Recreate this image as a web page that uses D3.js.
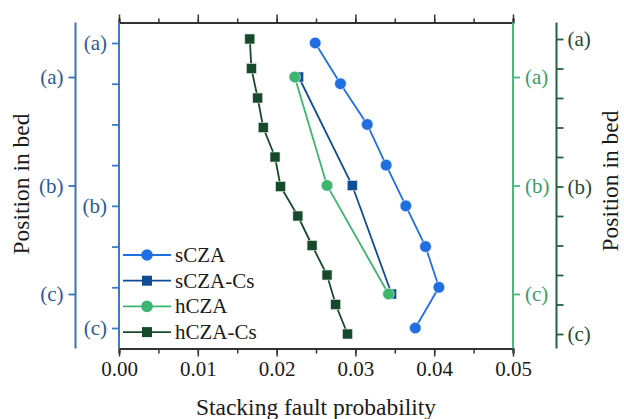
<!DOCTYPE html>
<html>
<head>
<meta charset="utf-8">
<script src="https://cdn.jsdelivr.net/npm/d3@7"></script>
<style>
  html, body { margin: 0; padding: 0; background: #ffffff; }
  svg { display: block; }
  text { font-family: "Liberation Serif", "Times New Roman", serif; }
</style>
</head>
<body>
<svg id="chart" width="624" height="419"></svg>
<script>
// ---- data ----
const xTickValues = [0.00, 0.01, 0.02, 0.03, 0.04, 0.05];
const seriesNames = ["sCZA", "sCZA-Cs", "hCZA", "hCZA-Cs"];

// sCZA: 8 positions, left inner axis
const sczaPos = ["(a)", "", "", "", "(b)", "", "", "(c)"];
const sczaVals = [0.0249, 0.0281, 0.0315, 0.0339, 0.0364, 0.0389, 0.0406, 0.0376];

// sCZA-Cs and hCZA: 3 positions, left outer / right inner axes
const midPos = ["(a)", "(b)", "(c)"];
const sczaCsVals = [0.0228, 0.0296, 0.0346];
const hczaVals = [0.0223, 0.0264, 0.0342];

// hCZA-Cs: 11 positions, right outer axis
const hczaCsPos = ["(a)", "", "", "", "", "(b)", "", "", "", "", "(c)"];
const hczaCsVals = [0.0166, 0.0168, 0.0176, 0.0183, 0.0198, 0.0205, 0.0227, 0.0245, 0.0264, 0.0275, 0.0290];

(function () {
// ---- layout ----
const svg = d3.select("#chart");
const L = 119, R = 513, T = 22.5, B = 348.5;

const colS = "#1f6fe0", colSCs = "#0f4d96", colH = "#3db56f", colHCs = "#17492c";
const axBlue = "#3b7cc6", lblBlue = "#2a5b95";
const axGreen = "#4cb77a", lblGreen = "#3a9e63";
const axDkGreen = "#2a5e40", lblDkGreen = "#1f4a31";

const x = d3.scaleLinear().domain([0, 0.05]).range([L, R]);
const yS = d3.scaleLinear().domain([0, sczaPos.length - 1]).range([43, 328]);
const yM = d3.scaleLinear().domain([0, midPos.length - 1]).range([77, 294]);
const yH = d3.scaleLinear().domain([0, hczaCsPos.length - 1]).range([39, 334]);

const fs = 21;

// ---- x axes ----
const minorX = d3.range(0, 0.0501, 0.005);
const bottomAx = svg.append("g").attr("transform", `translate(0,${B})`)
  .call(d3.axisBottom(x).tickValues(minorX).tickSize(5).tickFormat(""));
bottomAx.selectAll(".tick line").attr("stroke", "#333").attr("stroke-width", 1.5);
bottomAx.select(".domain").attr("stroke", "#333").attr("stroke-width", 2);
const bottomMaj = svg.append("g").attr("transform", `translate(0,${B})`)
  .call(d3.axisBottom(x).tickValues(xTickValues).tickSize(8).tickPadding(5).tickFormat(d3.format(".2f")));
bottomMaj.select(".domain").remove();
bottomMaj.selectAll(".tick line").attr("stroke", "#333").attr("stroke-width", 1.5);
bottomMaj.selectAll(".tick text").attr("font-size", fs).attr("fill", "#1a1a1a")
  .attr("font-family", "Liberation Serif");

const topAx = svg.append("g").attr("transform", `translate(0,${T})`)
  .call(d3.axisTop(x).tickValues(minorX).tickSize(4).tickFormat(""));
topAx.selectAll(".tick line").attr("stroke", "#333").attr("stroke-width", 1.5);
topAx.select(".domain").attr("stroke", "#333").attr("stroke-width", 2);
const topMaj = svg.append("g").attr("transform", `translate(0,${T})`)
  .call(d3.axisTop(x).tickValues(xTickValues).tickSize(8).tickFormat(""));
topMaj.select(".domain").remove();
topMaj.selectAll(".tick line").attr("stroke", "#333").attr("stroke-width", 1.5);

// ---- y axes ----
function yAxis(gen, xpos, scale, labels, axCol, lblCol, pad) {
  const g = svg.append("g").attr("transform", `translate(${xpos},0)`)
    .call(gen(scale).tickValues(d3.range(labels.length)).tickSize(7).tickPadding(pad)
      .tickFormat(i => labels[i]).tickSizeOuter(0));
  g.select(".domain").remove();
  g.append("line").attr("x1", 0).attr("x2", 0).attr("y1", T).attr("y2", B)
    .attr("stroke", axCol).attr("stroke-width", 2);
  g.selectAll(".tick line").attr("stroke", axCol).attr("stroke-width", 1.8);
  g.selectAll(".tick text").attr("font-size", fs).attr("fill", lblCol)
    .attr("font-family", "Liberation Serif");
  return g;
}
yAxis(d3.axisLeft, L, yS, sczaPos, axBlue, lblBlue, 5);
yAxis(d3.axisLeft, 75.5, yM, midPos, "#3572b8", lblBlue, 5);
yAxis(d3.axisRight, R, yM, midPos, axGreen, lblGreen, 5);
yAxis(d3.axisRight, 556.5, yH, hczaCsPos, axDkGreen, lblDkGreen, 4);

// ---- axis titles ----
svg.append("text").attr("x", (L + R) / 2).attr("y", 415).attr("text-anchor", "middle")
  .attr("font-size", 23.5).attr("fill", "#1a1a1a").text("Stacking fault probability");
svg.append("text").attr("transform", "translate(29,184) rotate(-90)").attr("text-anchor", "middle")
  .attr("font-size", 23.5).attr("fill", "#1a1a1a").text("Position in bed");
svg.append("text").attr("transform", "translate(618,181) rotate(-90)").attr("text-anchor", "middle")
  .attr("font-size", 23.5).attr("fill", "#1a1a1a").text("Position in bed");

// ---- series ----
const line = (ys) => d3.line().x(d => x(d)).y((d, i) => ys(i));
function drawSeries(vals, ys, col, shape) {
  const g = svg.append("g");
  g.append("path").datum(vals).attr("d", line(ys)).attr("fill", "none")
    .attr("stroke", col).attr("stroke-width", 1.8);
  if (shape === "circle") {
    g.selectAll("circle").data(vals).join("circle")
      .attr("cx", d => x(d)).attr("cy", (d, i) => ys(i)).attr("r", 5.8)
      .attr("fill", col).attr("stroke", "#e8f0fa").attr("stroke-width", 0.6);
  } else {
    g.selectAll("rect").data(vals).join("rect")
      .attr("x", d => x(d) - 5).attr("y", (d, i) => ys(i) - 5)
      .attr("width", 10).attr("height", 10)
      .attr("fill", col).attr("stroke", "#dfe8e2").attr("stroke-width", 0.6);
  }
}
drawSeries(hczaCsVals, yH, colHCs, "square");
drawSeries(sczaVals, yS, colS, "circle");
drawSeries(sczaCsVals, yM, colSCs, "square");
drawSeries(hczaVals, yM, colH, "circle");

// ---- legend ----
const legendCols = [colS, colSCs, colH, colHCs];
const legendShapes = ["circle", "square", "circle", "square"];
const lg = svg.append("g");
seriesNames.forEach((name, i) => {
  const yy = 255 + i * 25.7;
  lg.append("line").attr("x1", 123).attr("x2", 171).attr("y1", yy).attr("y2", yy)
    .attr("stroke", legendCols[i]).attr("stroke-width", 1.8);
  if (legendShapes[i] === "circle") {
    lg.append("circle").attr("cx", 147).attr("cy", yy).attr("r", 5.8).attr("fill", legendCols[i]);
  } else {
    lg.append("rect").attr("x", 142).attr("y", yy - 5).attr("width", 10).attr("height", 10)
      .attr("fill", legendCols[i]);
  }
  lg.append("text").attr("x", 175).attr("y", yy + 7).attr("font-size", fs)
    .attr("fill", "#1a1a1a").text(name);
});
})();
</script>
</body>
</html>
